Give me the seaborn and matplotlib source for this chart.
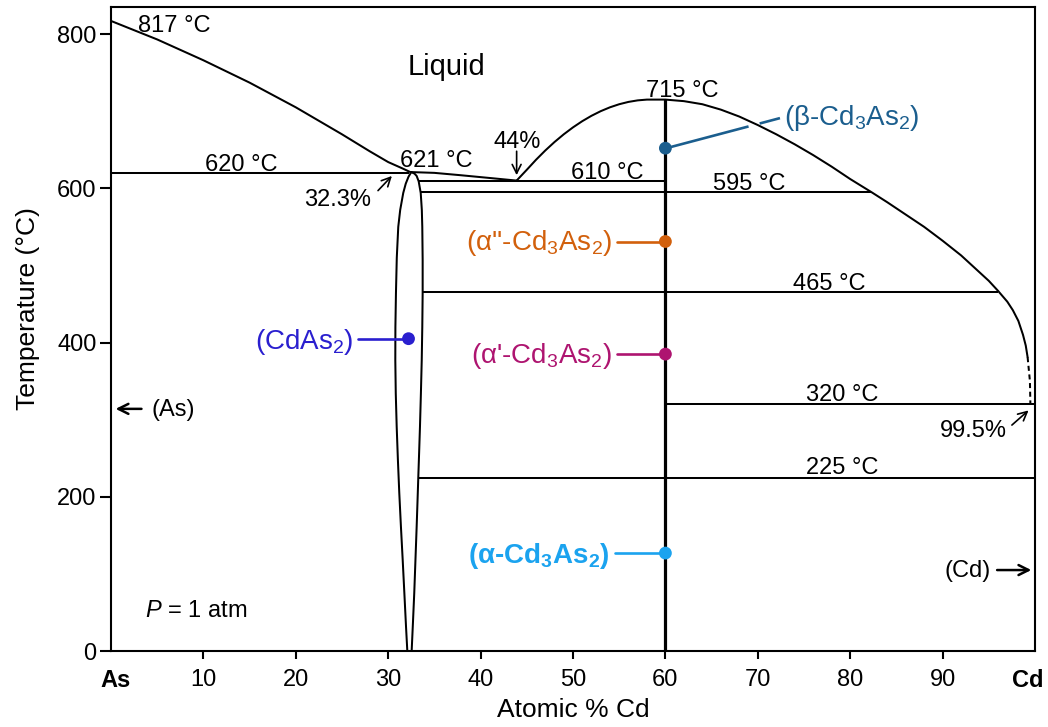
import matplotlib
matplotlib.use("Agg")
import matplotlib.pyplot as plt
import seaborn as sns
from matplotlib.transforms import ScaledTranslation

# ---------------- phase-boundary data (at.% Cd, °C) ----------------
# liquidus on the As-rich side, from pure As down to the CdAs2 eutectic
as_liq_x = [0, 5, 10, 15, 20, 25, 28, 30, 31.5, 32.4]
as_liq_t = [817, 793, 766, 737, 705, 670, 648, 634, 626, 621]

# liquidus from the CdAs2 melting point down to the 44 % eutectic
mid_liq_x = [32.5, 35.0, 37.8, 41.3, 43.9]
mid_liq_t = [621, 620, 617, 613, 610]

# liquidus of Cd3As2 (44 % eutectic -> 715 °C maximum -> Cd-rich end)
cd_liq_x = [43.9, 45, 46, 47, 48, 49, 50, 51, 52, 53, 54, 55, 56, 57, 58, 60,
            62, 64, 66, 68, 70, 72, 74, 76, 78, 80, 82.3, 84, 86, 88, 90, 92,
            94, 95, 96, 97, 97.6, 98.2, 98.7, 99.0, 99.2]
cd_liq_t = [610, 624, 637, 649, 660, 670, 679, 687, 694, 700, 705, 709, 712, 714, 715, 715,
            713, 709, 702, 693, 682, 670, 657, 643, 628, 612, 595, 582, 566, 550, 532, 513,
            491, 480, 467, 453, 442, 428, 410, 396, 381]
# uncertain (dashed) end of the Cd-side liquidus
cd_liq_end_x = [99.2, 99.45, 99.5]
cd_liq_end_t = [381, 350, 320]

# CdAs2 homogeneity range (lens)
lens_left_x = [32.5, 32.2, 31.9, 31.63, 31.3, 31.09, 30.93, 30.84, 30.78, 30.77, 30.82,
               30.92, 31.05, 31.2, 31.38, 31.57, 31.75, 31.93, 32.07]
lens_left_t = [621, 615, 606, 594, 572, 550, 510, 464, 420, 377, 334,
               291, 248, 205, 161, 118, 75, 31.5, 0]
lens_right_x = [32.5, 32.85, 33.08, 33.3, 33.52, 33.64, 33.69, 33.73, 33.73, 33.69, 33.63,
                33.54, 33.44, 33.35, 33.26, 33.17, 33.08, 32.95, 32.82, 32.68, 32.54]
lens_right_t = [621, 619, 616, 609, 594, 572, 550, 507, 464, 420, 377,
                334, 291, 258, 226, 193, 161, 118, 75, 37, 0]

# invariant / transition isotherms
iso_t = [620, 610, 595, 465, 320, 225]
iso_x0 = [0, 33.35, 33.52, 33.73, 60, 33.26]
iso_x1 = [32.3, 60, 82.3, 96.0, 100, 100]

# Cd3As2 line compound
cd3as2_x = 60
cd3as2_tmax = 715

# phase markers
phase_names = ["beta", "alpha2", "alpha1", "alpha", "cdas2"]
phase_x = [60, 60, 60, 60, 32.2]
phase_t = [652, 531, 385, 127, 405]
phase_colors = ["#1B5E8E", "#D2600C", "#AE1470", "#1BA3EF", "#2A1FCF"]

# axis ticks
x_ticks = [0, 10, 20, 30, 40, 50, 60, 70, 80, 90, 100]
x_tick_labels = ["As", "10", "20", "30", "40", "50", "60", "70", "80", "90", "Cd"]
y_ticks = [0, 200, 400, 600, 800]

# ---------------- style ----------------
sns.set_theme(style="ticks")
plt.rcParams["font.family"] = ["Liberation Sans", "DejaVu Sans"]
plt.rcParams["mathtext.fontset"] = "custom"
plt.rcParams["mathtext.rm"] = "Liberation Sans"
plt.rcParams["mathtext.it"] = "Liberation Sans:italic"
plt.rcParams["mathtext.bf"] = "Liberation Sans:bold"
plt.rcParams["axes.linewidth"] = 1.5
plt.rcParams["axes.edgecolor"] = "black"
plt.rcParams["axes.labelcolor"] = "black"
plt.rcParams["text.color"] = "black"
plt.rcParams["xtick.color"] = "black"
plt.rcParams["ytick.color"] = "black"
plt.rcParams["xtick.labelcolor"] = "black"
plt.rcParams["ytick.labelcolor"] = "black"

fig = plt.figure(figsize=(10.48, 7.27), dpi=100)
ax = fig.add_axes([0.1059, 0.1045, 0.8817, 0.8858])
ax.set_facecolor("white")

LW = 1.45


def boundary(xs, ts, **kw):
    opts = dict(sort=False, estimator=None, ax=ax, color="black", lw=LW, legend=False)
    opts.update(kw)
    line_ax = sns.lineplot(x=xs, y=ts, **opts)
    line_ax.lines[-1].set_solid_joinstyle("round")


boundary(as_liq_x, as_liq_t)
boundary(mid_liq_x, mid_liq_t)
boundary(cd_liq_x, cd_liq_t)
boundary(cd_liq_end_x, cd_liq_end_t, linestyle=(0, (2.5, 1.8)))
boundary(lens_left_x, lens_left_t)
boundary(lens_right_x, lens_right_t)
ax.hlines(iso_t, iso_x0, iso_x1, colors="black", lw=LW)
boundary([cd3as2_x, cd3as2_x], [0, cd3as2_tmax], lw=2.3)

# ---------------- phase labels with connectors ----------------
CLW = 1.9
LFS = 20
ax.plot([60.1, 69.0], [652, 680.2], color=phase_colors[0], lw=CLW, solid_capstyle="butt")
ax.plot([70.2, 72.4], [684, 691], color=phase_colors[0], lw=CLW, solid_capstyle="butt")
ax.text(72.8, 682, "(β-Cd$_3$As$_2$)", color=phase_colors[0], fontsize=LFS, ha="left", va="baseline")

ax.plot([54.8, 60], [531, 531], color=phase_colors[1], lw=CLW)
ax.text(54.2, 520, "(α''-Cd$_3$As$_2$)", color=phase_colors[1], fontsize=LFS, ha="right", va="baseline")

ax.plot([54.8, 60], [385, 385], color=phase_colors[2], lw=CLW)
ax.text(54.2, 374, "(α'-Cd$_3$As$_2$)", color=phase_colors[2], fontsize=LFS, ha="right", va="baseline")

ax.plot([54.5, 60], [127, 127], color=phase_colors[3], lw=CLW)
ax.text(54.0, 114, r"(α-Cd$_\mathbf{3}$As$_\mathbf{2}$)", color=phase_colors[3], fontsize=LFS,
        fontweight="bold", ha="right", va="baseline")

ax.plot([26.7, 32.2], [405, 405], color=phase_colors[4], lw=CLW)
ax.text(26.2, 392, "(CdAs$_2$)", color=phase_colors[4], fontsize=LFS, ha="right", va="baseline")

sns.scatterplot(x=phase_x, y=phase_t, hue=phase_names, palette=phase_colors, s=85,
                linewidth=0, legend=False, ax=ax, zorder=6)

# ---------------- temperature / composition annotations ----------------
FS = 17
ax.text(2.9, 803, "817 °C", fontsize=FS, ha="left", va="baseline")
ax.text(36.3, 757, "Liquid", fontsize=21, ha="center", va="center")
ax.text(14.1, 622, "620 °C", fontsize=FS, ha="center", va="baseline")
ax.text(35.2, 628, "621 °C", fontsize=FS, ha="center", va="baseline")
ax.text(53.7, 612.5, "610 °C", fontsize=FS, ha="center", va="baseline")
ax.text(61.85, 719, "715 °C", fontsize=FS, ha="center", va="baseline")
ax.text(69.05, 598, "595 °C", fontsize=FS, ha="center", va="baseline")
ax.text(77.7, 468, "465 °C", fontsize=FS, ha="center", va="baseline")
ax.text(79.1, 324, "320 °C", fontsize=FS, ha="center", va="baseline")
ax.text(79.1, 229, "225 °C", fontsize=FS, ha="center", va="baseline")
ax.text(44.0, 652, "44%", fontsize=FS, ha="center", va="baseline")
ax.text(24.5, 577, "32.3%", fontsize=FS, ha="center", va="baseline")
ax.text(93.3, 278, "99.5%", fontsize=FS, ha="center", va="baseline")
ax.text(6.7, 304.6, "(As)", fontsize=FS, ha="center", va="baseline")
ax.text(92.7, 96, "(Cd)", fontsize=FS, ha="center", va="baseline")
ax.text(3.7, 44, "$P$ = 1 atm", fontsize=FS, ha="left", va="baseline")

thin = dict(arrowstyle="->", lw=1.2, color="black", shrinkA=0, shrinkB=0, mutation_scale=16)
bold = dict(arrowstyle="->", lw=1.8, color="black", shrinkA=0, shrinkB=0, mutation_scale=18)
ax.annotate("", xy=(43.9, 617), xytext=(43.9, 648), arrowprops=thin)
ax.annotate("", xy=(30.4, 616), xytext=(28.9, 597), arrowprops=thin)
ax.annotate("", xy=(99.3, 312), xytext=(97.5, 293), arrowprops=thin)
ax.annotate("", xy=(0.5, 314), xytext=(3.3, 314), arrowprops=bold)
ax.annotate("", xy=(99.6, 105), xytext=(95.9, 105), arrowprops=bold)

# ---------------- axes ----------------
ax.set_xlim(0, 100)
ax.set_ylim(0, 835)
ax.set_xticks(x_ticks)
ax.set_xticklabels(x_tick_labels)
ax.set_yticks(y_ticks)
ax.tick_params(axis="both", which="major", labelsize=17, width=1.5, direction="out",
               color="black", labelcolor="black")
ax.tick_params(axis="x", length=6, pad=7)
ax.tick_params(axis="y", length=8, pad=2.5)
for side in ["top", "right", "left", "bottom"]:
    ax.spines[side].set_visible(True)
    ax.spines[side].set_linewidth(1.5)
    ax.spines[side].set_color("black")

xticks = ax.xaxis.get_major_ticks()
xticks[0].tick1line.set_visible(False)
xticks[-1].tick1line.set_visible(False)
labs = ax.get_xticklabels()
labs[0].set_fontweight("bold")
labs[-1].set_fontweight("bold")
labs[0].set_transform(labs[0].get_transform() + ScaledTranslation(0.05, 0, fig.dpi_scale_trans))
labs[-1].set_transform(labs[-1].get_transform() + ScaledTranslation(-0.07, 0, fig.dpi_scale_trans))

ax.set_xlabel("Atomic % Cd", fontsize=19, color="black")
ax.set_ylabel("Temperature (°C)", fontsize=19, color="black")
ax.xaxis.set_label_coords(0.5, -0.073)
ax.yaxis.set_label_coords(-0.077, 0.532)

fig.savefig("out.png", dpi=100, facecolor="white")
